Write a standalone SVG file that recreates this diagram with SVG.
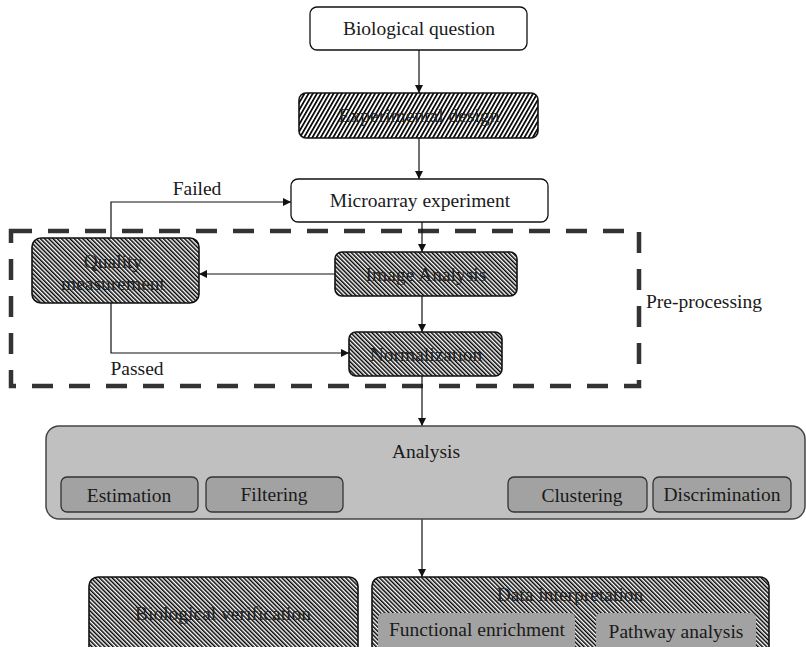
<svg xmlns="http://www.w3.org/2000/svg" width="806" height="647" viewBox="0 0 806 647">
<style>
text{font-family:"Liberation Serif","Times New Roman",serif;font-size:19.5px;fill:#1a1a1a;text-anchor:middle}
.hl{fill:#222}
.plain{fill:#fff;stroke:#111;stroke-width:1.3}
.hatch1{fill:url(#hs);stroke:#111;stroke-width:1.6}
.hatch2{fill:url(#hb);stroke:#111;stroke-width:1.6}
.conn{fill:none;stroke:#111;stroke-width:1.2}
.sub{fill:#a2a2a2;stroke:#333;stroke-width:1.3}
.lbl{text-anchor:start}
</style>
<defs>
<pattern id="hs" width="3.6" height="20" patternUnits="userSpaceOnUse" patternTransform="rotate(30)">
<rect width="3.6" height="20" fill="#fff"/><rect width="1.7" height="20" fill="#000"/>
</pattern>
<pattern id="hb" width="3" height="20" patternUnits="userSpaceOnUse" patternTransform="rotate(-45)">
<rect width="3" height="20" fill="#fff"/><rect width="1.5" height="20" fill="#000"/>
</pattern>
<marker id="ah" viewBox="0 0 10 10" refX="10" refY="5" markerWidth="8" markerHeight="8" markerUnits="userSpaceOnUse" orient="auto">
<path d="M0,0 L10,5 L0,10 z" fill="#111"/>
</marker>
</defs>
<rect width="806" height="647" fill="#fff"/>

<g id="preprocessing">
<rect x="11" y="231" width="628" height="155" fill="none" stroke="#333" stroke-width="4.5" stroke-dasharray="21 16"/>
<text class="lbl" x="646" y="308">Pre-processing</text>
</g>

<g id="connectors">
<path class="conn" d="M419,50 V93" marker-end="url(#ah)"/>
<path class="conn" d="M419,138 V179" marker-end="url(#ah)"/>
<path class="conn" d="M422,222 V252" marker-end="url(#ah)"/>
<path class="conn" d="M335,274 H199" marker-end="url(#ah)"/>
<path class="conn" d="M422,296 V332" marker-end="url(#ah)"/>
<path class="conn" d="M111,238 V202 H291" marker-end="url(#ah)"/>
<path class="conn" d="M111,303 V353 H349" marker-end="url(#ah)"/>
<path class="conn" d="M422,376 V426" marker-end="url(#ah)"/>
<path class="conn" d="M422,519 V577" marker-end="url(#ah)"/>
<text x="197" y="195">Failed</text>
<text x="137" y="375">Passed</text>
</g>

<g id="bio-question">
<rect class="plain" x="310" y="7" width="217" height="43" rx="7"/>
<text x="419" y="35">Biological question</text>
</g>

<g id="exp-design">
<rect class="hatch1" x="299" y="93" width="239" height="45" rx="7"/>
<text class="hl" x="419" y="122">Experimental design</text>
</g>

<g id="microarray">
<rect class="plain" x="291" y="179" width="257" height="43" rx="7"/>
<text x="420" y="207">Microarray experiment</text>
</g>

<g id="quality">
<rect class="hatch2" x="32" y="238" width="167" height="65" rx="9"/>
<text class="hl" x="113" y="268">Quality</text>
<text class="hl" x="113" y="290">measurement</text>
</g>

<g id="image-analysis">
<rect class="hatch2" x="335" y="252" width="182" height="44" rx="7"/>
<text class="hl" x="426" y="281">Image Analysis</text>
</g>

<g id="normalization">
<rect class="hatch2" x="349" y="332" width="153" height="44" rx="7"/>
<text class="hl" x="426" y="361">Normalization</text>
</g>

<g id="analysis">
<rect x="46" y="426" width="759" height="93" rx="13" fill="#c0c0c0" stroke="#444" stroke-width="1.5"/>
<text x="426" y="458">Analysis</text>
<g id="estimation"><rect class="sub" x="61" y="477" width="137" height="35" rx="6"/><text x="129" y="502">Estimation</text></g>
<g id="filtering"><rect class="sub" x="206" y="477" width="137" height="35" rx="6"/><text x="274" y="501">Filtering</text></g>
<g id="clustering"><rect class="sub" x="508" y="477" width="139" height="35" rx="6"/><text x="582" y="502">Clustering</text></g>
<g id="discrimination"><rect class="sub" x="653" y="477" width="138" height="35" rx="6"/><text x="722" y="501">Discrimination</text></g>
</g>

<g id="bio-verification">
<rect class="hatch2" x="89" y="577" width="269" height="80" rx="9"/>
<text class="hl" x="223" y="620">Biological verification</text>
</g>

<g id="data-interpretation">
<rect class="hatch2" x="372" y="577" width="397" height="80" rx="9"/>
<text class="hl" x="570" y="601">Data interpretation</text>
<g id="functional"><rect x="378" y="613" width="197" height="40" rx="5" fill="#a2a2a2"/><text x="477" y="636">Functional enrichment</text></g>
<g id="pathway"><rect x="596" y="613" width="160" height="40" rx="5" fill="#a2a2a2"/><text x="676" y="638">Pathway analysis</text></g>
</g>
</svg>
